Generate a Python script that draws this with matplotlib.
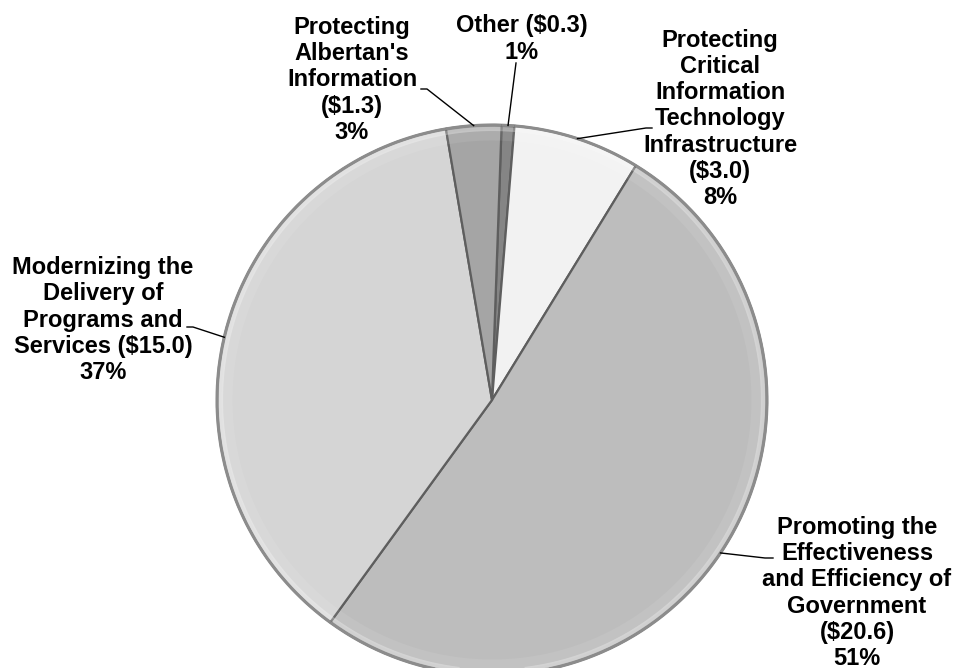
import numpy as np
import matplotlib.pyplot as plt

# Spending by strategy ($ millions), clockwise from the top
categories = ["Other", "Protecting Critical Information Technology Infrastructure",
              "Promoting the Effectiveness and Efficiency of Government",
              "Modernizing the Delivery of Programs and Services",
              "Protecting Albertan's Information"]
amounts = [0.3, 3.0, 20.6, 15.0, 1.3]
percents = [1, 8, 51, 37, 3]
label_texts = [
    "Other ($0.3)\n1%",
    "Protecting\nCritical\nInformation\nTechnology\nInfrastructure\n($3.0)\n8%",
    "Promoting the\nEffectiveness\nand Efficiency of\nGovernment\n($20.6)\n51%",
    "Modernizing the\nDelivery of\nPrograms and\nServices ($15.0)\n37%",
    "Protecting\nAlbertan's\nInformation\n($1.3)\n3%",
]
colors = ["#858585", "#f2f2f2", "#bdbdbd", "#d5d5d5", "#a5a5a5"]

W, H = 955, 668
cx, cy, R = 492, H - 400, 275

# label block centres and where the leader line meets the text (pixel coords, y down)
label_pos = [(522, 39), (720, 119), (857, 593), (103, 320), (352, 80)]
leader_end = [[(516, 63)], [(646, 128), (652, 128)], [(765, 558), (773, 558)],
              [(193, 327), (187, 327)], [(427, 89), (421, 89)]]

fig = plt.figure(figsize=(W / 100, H / 100), dpi=100)
ax = fig.add_axes([0, 0, 1, 1])

wedges, _ = ax.pie(amounts, colors=colors, startangle=88, counterclock=False,
                   center=(cx, cy), radius=R,
                   wedgeprops=dict(edgecolor="#5e5e5e", linewidth=1.6))

# bevel: faint light band just inside the rim, grey rim outside
for w in wedges:
    ang = np.radians(np.linspace(w.theta1, w.theta2, 100))
    for dr, lw, c, a in [(-4, 3, "white", 0.3), (-10, 8, "white", 0.08), (0, 2.2, "#8c8c8c", 1.0)]:
        ax.plot(cx + (R + dr) * np.cos(ang), cy + (R + dr) * np.sin(ang),
                color=c, alpha=a, lw=lw, solid_capstyle="butt", zorder=3)

for w, txt, (lx, ly), pts in zip(wedges, label_texts, label_pos, leader_end):
    mid = np.radians((w.theta1 + w.theta2) / 2)
    ex, ey = cx + R * np.cos(mid), cy + R * np.sin(mid)
    xs = [ex] + [p[0] for p in pts]
    ys = [ey] + [H - p[1] for p in pts]
    ax.plot(xs, ys, color="black", lw=1.0, zorder=4)
    ax.text(lx, H - ly, txt, ha="center", va="center", multialignment="center",
            fontsize=17, fontweight="bold", family="Liberation Sans", linespacing=1.17,
            zorder=5)

ax.set_xlim(0, W)
ax.set_ylim(0, H)
ax.set_aspect("equal")
ax.axis("off")

fig.savefig("out.png", dpi=100)
